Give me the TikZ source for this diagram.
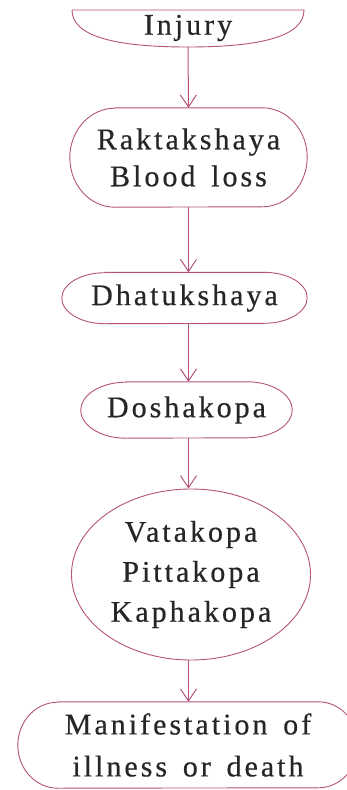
\documentclass[tikz,border=0pt]{standalone}
\usepackage{fontspec}
\setmainfont{Liberation Serif}
\newfontfamily\lblfont[LetterSpace=10,FakeBold=0.5,WordSpace=1.5]{Liberation Serif}
\usetikzlibrary{arrows.meta,shapes.geometric}
\definecolor{edge}{HTML}{B5527A}
\definecolor{ink}{HTML}{262626}
\tikzset{
  outline/.style={draw=edge, line width=0.9pt},
  box/.style={align=center, text=ink,
    font=\lblfont\fontsize{30}{38}\selectfont, inner sep=0pt},
  oval/.style={box, ellipse, outline},
  conn/.style={draw=edge, line width=1pt, -{Straight Barb[length=12pt,width=16pt,line width=1pt]}}
}
% elliptic-ended box outline: node name, x radius, y radius
\newcommand\ovaloutline[3]{%
  \draw[outline] ([xshift=#2pt]#1.north west) -- ([xshift=-#2pt]#1.north east)
    arc[start angle=-90,end angle=90,x radius=#2,y radius=#3]
    -- ([xshift=#2pt]#1.south west)
    arc[start angle=90,end angle=270,x radius=#2,y radius=#3] -- cycle;}
\begin{document}
\begin{tikzpicture}[x=1pt,y=-1pt]
\useasboundingbox (0,0) rectangle (347,790);
\clip (0,0) rectangle (347,790);
% Injury
\draw[outline] (72,10) -- (304,10)
  .. controls (304,36) and (262,47) .. (188,47)
  .. controls (114,47) and (72,36) .. (72,10);
\node[box] (inj) at (188,28) {Injury};
\coordinate (injb) at (188,47);
% Raktakshaya
\node[box, minimum width=237pt, minimum height=99pt, font=\lblfont\fontsize{30}{37}\selectfont] (rak) at (188.5,157.5) {Raktakshaya\\Blood loss};
\ovaloutline{rak}{45}{49.5}
% Dhatukshaya
\node[box, minimum width=245pt, minimum height=51pt] (dha) at (184.5,298) {Dhatukshaya};
\ovaloutline{dha}{43}{25.5}
% Doshakopa
\node[box, minimum width=211pt, minimum height=56pt] (dos) at (186.5,410) {Doshakopa};
\ovaloutline{dos}{45}{28}
% Vatakopa
\node[oval, minimum width=239pt, minimum height=171pt, font=\lblfont\fontsize{30}{40}\selectfont] (vat) at (191,574.5) {Vatakopa\\Pittakopa\\Kaphakopa};
% Manifestation
\node[box, minimum width=340pt, minimum height=86pt, font=\lblfont\fontsize{30}{42}\selectfont] (man) at (188,745) {Manifestation of\\illness or death};
\ovaloutline{man}{40}{43}
% connectors
\path[conn] (injb) -- (rak.north);
\path[conn] (rak.south) -- (rak.south |- dha.north);
\path[conn] (rak.south |- dha.south) -- (rak.south |- dos.north);
\path[conn] (rak.south |- dos.south) -- (rak.south |- vat.north);
\path[conn] (rak.south |- vat.south) -- (rak.south |- man.north);
\end{tikzpicture}
\end{document}
